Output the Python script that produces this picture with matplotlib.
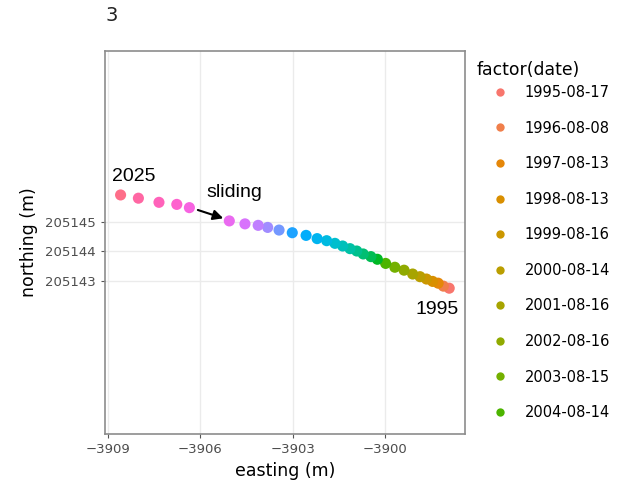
import numpy as np
import matplotlib
matplotlib.use("Agg")
import matplotlib.pyplot as plt
from matplotlib.lines import Line2D

# -------------------- data (1995 -> 2025) ----------------------------------------------------------------------------

dates = ["1995-08-17", "1996-08-08", "1997-08-13", "1998-08-13", "1999-08-16",
         "2000-08-14", "2001-08-16", "2002-08-16", "2003-08-15", "2004-08-14",
         "2005-08-15", "2006-08-15", "2007-08-15", "2008-08-15", "2009-08-15",
         "2010-08-15", "2011-08-15", "2012-08-15", "2013-08-15", "2014-08-15",
         "2015-08-15", "2016-08-15", "2017-08-15", "2018-08-15", "2019-08-15",
         "2020-08-15", "2021-08-15", "2022-08-15", "2023-08-15", "2024-08-15",
         "2025-08-15"]

easting = [-3897.90, -3898.09, -3898.26, -3898.44, -3898.64, -3898.85, -3899.09, -3899.37,
           -3899.67, -3899.97, -3900.24, -3900.45, -3900.70, -3900.91, -3901.13, -3901.37,
           -3901.62, -3901.89, -3902.20, -3902.56, -3903.01, -3903.44, -3903.81, -3904.12,
           -3904.55, -3905.06, -3906.36, -3906.77, -3907.35, -3908.02, -3908.60]

northing = [205142.74, 205142.81, 205142.91, 205142.97, 205143.05, 205143.13, 205143.22, 205143.35,
            205143.45, 205143.58, 205143.72, 205143.81, 205143.90, 205144.00, 205144.08, 205144.17,
            205144.26, 205144.35, 205144.42, 205144.53, 205144.62, 205144.71, 205144.80, 205144.87,
            205144.92, 205145.02, 205145.47, 205145.58, 205145.65, 205145.79, 205145.90]

x_ticks = [-3909, -3906, -3903, -3900]
y_ticks = [205143, 205144, 205145]


def hue_pal(n, c=100.0, l=65.0, h0=15.0):
    # ggplot2 style hue palette (polar Luv -> sRGB)
    hues = np.linspace(h0, h0 + 360, n + 1)[:n]
    xn, yn, zn = 95.047, 100.0, 108.883
    un = 4 * xn / (xn + 15 * yn + 3 * zn)
    vn = 9 * yn / (xn + 15 * yn + 3 * zn)
    out = []
    for h in hues:
        u = c * np.cos(np.radians(h))
        v = c * np.sin(np.radians(h))
        Y = yn * ((l + 16) / 116) ** 3
        up = u / (13 * l) + un
        vp = v / (13 * l) + vn
        X = 9 * Y * up / (4 * vp)
        Z = -X / 3 - 5 * Y + 3 * Y / vp
        xyz = np.array([X, Y, Z]) / 100
        m = np.array([[3.2404542, -1.5371385, -0.4985314],
                      [-0.9692660, 1.8760108, 0.0415560],
                      [0.0556434, -0.2040259, 1.0572252]])
        rgb = m @ xyz
        rgb = np.where(rgb <= 0.0031308, 12.92 * rgb, 1.055 * np.abs(rgb) ** (1 / 2.4) - 0.055)
        out.append(tuple(np.clip(rgb, 0, 1)))
    return out


colors = hue_pal(len(dates))

fig = plt.figure(figsize=(6.19, 4.92), dpi=100)
ax = fig.add_axes([0.169, 0.118, 0.583, 0.779])

for i, d in enumerate(dates):
    ax.scatter(easting[i], northing[i], s=64, color=colors[i], edgecolors='none', zorder=3)

ax.set_xlim(-3909.12, -3897.37)
ax.set_ylim(205137.80, 205150.79)
ax.set_xticks(x_ticks)
ax.set_yticks(y_ticks)
ax.ticklabel_format(useOffset=False, style='plain')
ax.grid(True, color='#ebebeb', linewidth=1)
ax.set_axisbelow(True)
for sp in ax.spines.values():
    sp.set_color('#8c8c8c')
    sp.set_linewidth(1.2)
ax.tick_params(length=3, color='#555555', labelcolor='#4d4d4d', labelsize=9.5)

ax.set_xlabel("easting (m)", fontsize=12.5, labelpad=4)
ax.set_ylabel("northing (m)", fontsize=12.5, labelpad=5)

fig.text(0.170, 0.968, "3", fontsize=14, va='center', ha='left', color='#222222')

# annotations
ax.text(-3908.16, 205146.54, "2025", fontsize=14, family='Liberation Sans', ha='center', va='center')
ax.text(-3904.88, 205146.0, "sliding", fontsize=14, family='Liberation Sans', ha='center', va='center')
ax.text(-3898.30, 205142.03, "1995", fontsize=14, family='Liberation Sans', ha='center', va='center')
ax.annotate('', xy=(-3905.17, 205145.08), xytext=(-3906.17, 205145.42),
            arrowprops=dict(arrowstyle='-|>', color='black', lw=1.5, mutation_scale=15))

# legend: only the first 10 levels are visible
fig.text(477 / 619, 1 - 70 / 492, "factor(date)", fontsize=12.4, va='center', ha='left')
handles = [Line2D([], [], marker='o', linestyle='none', markersize=6, color=colors[i],
                  markeredgewidth=0) for i in range(10)]
leg = fig.legend(handles, dates[:10], loc='upper left',
                 bbox_to_anchor=(477 / 619, 1 - 85 / 492), frameon=False, fontsize=10.5,
                 labelspacing=1.41, handletextpad=0.15, borderpad=0,
                 borderaxespad=0, handlelength=3.1)

fig.savefig("out.png", dpi=100)
